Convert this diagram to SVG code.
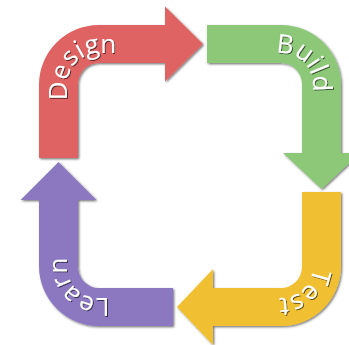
<svg xmlns="http://www.w3.org/2000/svg" width="349" height="345" viewBox="0 0 349 345">
  <defs>
    <filter id="sh" x="-10%" y="-10%" width="130%" height="130%">
      <feDropShadow dx="1.2" dy="1.2" stdDeviation="0.8" flood-color="#000" flood-opacity="0.55"/>
    </filter>
    <filter id="tsh" x="-20%" y="-20%" width="140%" height="140%">
      <feDropShadow dx="1" dy="1" stdDeviation="0.7" flood-color="#000" flood-opacity="0.6"/>
    </filter>
    <path id="pDesign" d="M67,150 L67,85 A32,32 0 0 1 99,53 L170,53"/>
    <path id="pBuild" d="M220,53 L281,53 A32,32 0 0 1 313,85 L313,150"/>
    <path id="pTest" d="M313,200 L313,266 A32,32 0 0 1 281,298 L210,298"/>
    <path id="pLearn" d="M170,298 L99,298 A32,32 0 0 1 67,266 L67,200"/>
  </defs>
  <style>
    .arrow { filter: url(#sh); }
    .lbl { font-family: "Open Sans", "DejaVu Sans", sans-serif; font-size: 26px; fill: #ffffff; filter: url(#tsh); }
  </style>
  <rect width="349" height="345" fill="#ffffff"/>
  <g id="design">
    <path class="arrow" fill="#E06464" d="M39,158 L39,85 A60,60 0 0 1 99,25 L165,25 L165,6.5 L203,44 L165,81.5 L165,63 L99,63 A21,21 0 0 0 78,84 L78,158 Z"/>
    <text class="lbl"><textPath href="#pDesign" startOffset="91" text-anchor="middle">Design</textPath></text>
  </g>
  <g id="build">
    <path class="arrow" fill="#8DC878" d="M207,25 L281,25 A60,60 0 0 1 341,85 L341,153 L360,153 L321.5,189 L283,153 L302,153 L302,84 A21,21 0 0 0 281,63 L207,63 Z"/>
    <text class="lbl"><textPath href="#pBuild" startOffset="87" text-anchor="middle">Build</textPath></text>
  </g>
  <g id="test">
    <path class="arrow" fill="#F0C030" d="M302,192 L341,192 L341,266 A60,60 0 0 1 281,326 L213,326 L213,345 L177,307 L213,269 L213,288 L281,288 A21,21 0 0 0 302,267 Z"/>
    <text class="lbl"><textPath href="#pTest" startOffset="93" text-anchor="middle">Test</textPath></text>
  </g>
  <g id="learn">
    <path class="arrow" fill="#8B78C0" d="M173,326 L99,326 A60,60 0 0 1 39,266 L39,200 L20.5,200 L58.5,162 L96.5,200 L78,200 L78,267 A21,21 0 0 0 99,288 L173,288 Z"/>
    <text class="lbl"><textPath href="#pLearn" startOffset="95" text-anchor="middle">Learn</textPath></text>
  </g>
  <g id="connectors"/>
</svg>
